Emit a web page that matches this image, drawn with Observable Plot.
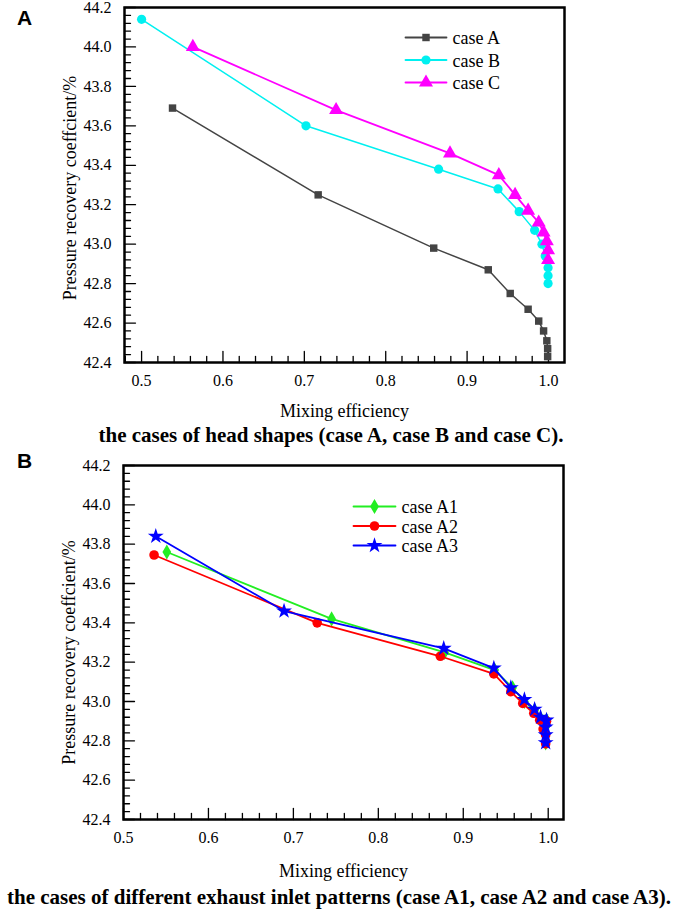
<!DOCTYPE html>
<html><head><meta charset="utf-8">
<script src="https://cdn.jsdelivr.net/npm/d3@7"></script>
<script src="https://cdn.jsdelivr.net/npm/@observablehq/plot@0.6"></script>
<style>
body{margin:0;background:#fff;}
#root{position:relative;width:678px;height:918px;overflow:hidden;font-family:"Liberation Serif","Times New Roman",serif;color:#000;}
.panel{position:absolute;left:0;}
.letter{position:absolute;font-family:"Liberation Sans",Arial,sans-serif;font-weight:bold;font-size:21px;line-height:1;}
.caption{position:absolute;font-weight:bold;font-size:21px;line-height:1;white-space:nowrap;text-align:center;}
</style></head>
<body><div id="root">
<div id="pA" class="panel" style="top:0"></div>
<div class="letter" style="left:17px;top:7px">A</div>
<div class="caption" style="left:0;width:662px;top:425px">the cases of head shapes (case A, case B and case C).</div>
<div id="pB" class="panel" style="top:440px"></div>
<div class="letter" style="left:17px;top:450px">B</div>
<div class="caption" style="left:0;width:678px;top:887px">the cases of different exhaust inlet patterns (case A1, case A2 and case A3).</div>
</div>
<script>
// ---- Panel A data ----
const namesA = ["case A", "case B", "case C"];
const colorsA = ["#444444", "#00f0f0", "#ff00ff"];
const symbolsA = ["square", "circle", "triangle"];
const caseA_x = [0.538, 0.717, 0.859, 0.926, 0.953, 0.975, 0.988, 0.994, 0.998, 0.999, 0.999];
const caseA_y = [43.69, 43.25, 42.98, 42.87, 42.75, 42.67, 42.61, 42.56, 42.51, 42.47, 42.43];
const caseB_x = [0.500, 0.702, 0.865, 0.938, 0.964, 0.983, 0.992, 0.996, 0.9995, 0.9995, 0.9995];
const caseB_y = [44.14, 43.60, 43.38, 43.28, 43.165, 43.07, 43.00, 42.94, 42.88, 42.84, 42.80];
const caseC_x = [0.563, 0.739, 0.879, 0.939, 0.959, 0.975, 0.988, 0.994, 0.998, 0.9995, 0.9995];
const caseC_y = [44.00, 43.68, 43.46, 43.35, 43.25, 43.17, 43.11, 43.06, 43.015, 42.97, 42.92];

// ---- Panel B data ----
const namesB = ["case A1", "case A2", "case A3"];
const colorsB = ["#22ee22", "#ff0000", "#0000ff"];
const symbolsB = ["diamond", "circle", "star"];
const caseA1_x = [0.551, 0.745, 0.878, 0.937, 0.958, 0.972, 0.984, 0.991, 0.998, 0.997, 0.997, 0.997];
const caseA1_y = [43.76, 43.42, 43.25, 43.16, 43.07, 43.00, 42.955, 42.915, 42.905, 42.87, 42.83, 42.79];
const caseA2_x = [0.536, 0.728, 0.873, 0.936, 0.956, 0.970, 0.983, 0.990, 0.998, 0.994, 0.997, 0.997];
const caseA2_y = [43.745, 43.40, 43.23, 43.14, 43.05, 42.99, 42.94, 42.905, 42.90, 42.86, 42.83, 42.785];
const caseA3_x = [0.538, 0.689, 0.877, 0.936, 0.956, 0.972, 0.984, 0.991, 0.998, 0.997, 0.997, 0.997];
const caseA3_y = [43.84, 43.46, 43.27, 43.17, 43.07, 43.01, 42.96, 42.92, 42.905, 42.87, 42.83, 42.79];

// ---- Ticks & labels ----
const xTicks = [0.5, 0.6, 0.7, 0.8, 0.9, 1.0];
const yTicks = [42.4, 42.6, 42.8, 43.0, 43.2, 43.4, 43.6, 43.8, 44.0, 44.2];
const xLabel = "Mixing efficiency";
const yLabel = "Pressure recovery coeffcient/%";

const tickRight = {draw(ctx, l) { ctx.moveTo(0, 0); ctx.lineTo(l, 0); }};
const tickUp = {draw(ctx, l) { ctx.moveTo(0, 0); ctx.lineTo(0, -l); }};

function toRows(xs, ys, name) { return xs.map((x, i) => ({x, y: ys[i], name})); }

function makePanel(opts) {
  const {series, names, colors, symbols, xDomain, yDomain, margins, height, legend, yLabelDy, xLabelDy} = opts;
  const [xmin, xmax] = xDomain;
  const xMinor = d3.range(0.48, 1.021, 0.02).map(v => +v.toFixed(2)).filter(v => v >= xmin - 1e-9 && v <= xmax - 0.002 && !xTicks.some(t => Math.abs(t - v) < 1e-6));
  const yMinor = d3.range(42.4, 44.2001, 0.04).map(v => +v.toFixed(2)).filter(v => !yTicks.some(t => Math.abs(t - v) < 1e-6));
  const marks = [
    Plot.vector(yMinor, {y: d => d, frameAnchor: "left", anchor: "start", length: 6, shape: tickRight, stroke: "black", strokeWidth: 1.3}),
    Plot.vector(yTicks, {y: d => d, frameAnchor: "left", anchor: "start", length: 11, shape: tickRight, stroke: "black", strokeWidth: 1.3}),
    Plot.vector(xMinor, {x: d => d, frameAnchor: "bottom", anchor: "start", length: 6, shape: tickUp, stroke: "black", strokeWidth: 1.3}),
    Plot.vector(xTicks.filter(v => v >= xmin && v <= xmax), {x: d => d, frameAnchor: "bottom", anchor: "start", length: 11, shape: tickUp, stroke: "black", strokeWidth: 1.3}),
    Plot.axisX({ticks: xTicks, tickSize: 0, tickPadding: 12, tickFormat: d3.format(".1f"), label: null, fontSize: 16}),
    Plot.axisY({ticks: yTicks, tickSize: 0, tickPadding: 13, tickFormat: d3.format(".1f"), label: null, fontSize: 16}),
    Plot.text([yLabel], {frameAnchor: "left", dx: -54, dy: yLabelDy, rotate: -90, text: d => d, fontSize: 18, textAnchor: "middle", lineAnchor: "middle"}),
    Plot.text([xLabel], {frameAnchor: "bottom", dy: xLabelDy, text: d => d, fontSize: 18, textAnchor: "middle", lineAnchor: "middle"})
  ];
  series.forEach((rows, i) => {
    marks.push(Plot.line(rows, {x: "x", y: "y", stroke: colors[i], strokeWidth: opts.lineWidth[i]}));
    marks.push(Plot.dot(rows, {x: "x", y: "y", symbol: () => symbols[i], fill: colors[i], stroke: "none", r: opts.dotR[i]}));
  });
  names.forEach((nm, i) => {
    const dy = legend.y0 + i * legend.dy;
    marks.push(Plot.vector([nm], {frameAnchor: "top-left", dx: legend.x0, dy, anchor: "start", length: legend.len, shape: tickRight, stroke: colors[i], strokeWidth: 1.8}));
    marks.push(Plot.dot([nm], {frameAnchor: "top-left", dx: legend.x0 + legend.len / 2, dy, symbol: () => symbols[i], fill: colors[i], r: opts.dotR[i]}));
    marks.push(Plot.text([nm], {frameAnchor: "top-left", dx: legend.x0 + legend.len + 6, dy: dy + 1, text: d => d, fontSize: 18, textAnchor: "start", lineAnchor: "middle", fill: "black"}));
  });
  marks.push(Plot.frame({stroke: "black", strokeWidth: 2.5}));
  return Plot.plot({
    width: 678, height,
    marginLeft: margins[0], marginRight: margins[1], marginTop: margins[2], marginBottom: margins[3],
    style: {fontFamily: '"Liberation Serif","Times New Roman",serif', fontSize: "16px", color: "black", background: "transparent", overflow: "visible"},
    x: {domain: xDomain, axis: null},
    y: {domain: yDomain, axis: null},
    symbol: {type: "identity"},
    marks
  });
}

const plotA = makePanel({
  series: [toRows(caseA_x, caseA_y, namesA[0]), toRows(caseB_x, caseB_y, namesA[1]), toRows(caseC_x, caseC_y, namesA[2])],
  names: namesA, colors: colorsA, symbols: symbolsA,
  xDomain: [0.479, 1.0197], yDomain: [42.4, 44.2],
  margins: [124, 114, 7, 58], height: 420,
  legend: {x0: 281, y0: 30, dy: 22.5, len: 41},
  lineWidth: [1.5, 1.5, 1.8], dotR: [4.2, 4.6, 5.2],
  yLabelDy: 3, xLabelDy: 49
});
document.getElementById("pA").appendChild(plotA);

const plotB = makePanel({
  series: [toRows(caseA1_x, caseA1_y, namesB[0]), toRows(caseA2_x, caseA2_y, namesB[1]), toRows(caseA3_x, caseA3_y, namesB[2])],
  names: namesB, colors: colorsB, symbols: symbolsB,
  xDomain: [0.5, 1.018], yDomain: [42.4, 44.2],
  margins: [123, 115, 25, 62], height: 441,
  legend: {x0: 230, y0: 41, dy: 19.5, len: 42},
  lineWidth: [1.8, 1.8, 1.8], dotR: [4.6, 4.8, 5.0],
  yLabelDy: 10, xLabelDy: 52
});
document.getElementById("pB").appendChild(plotB);
</script>
</body></html>
